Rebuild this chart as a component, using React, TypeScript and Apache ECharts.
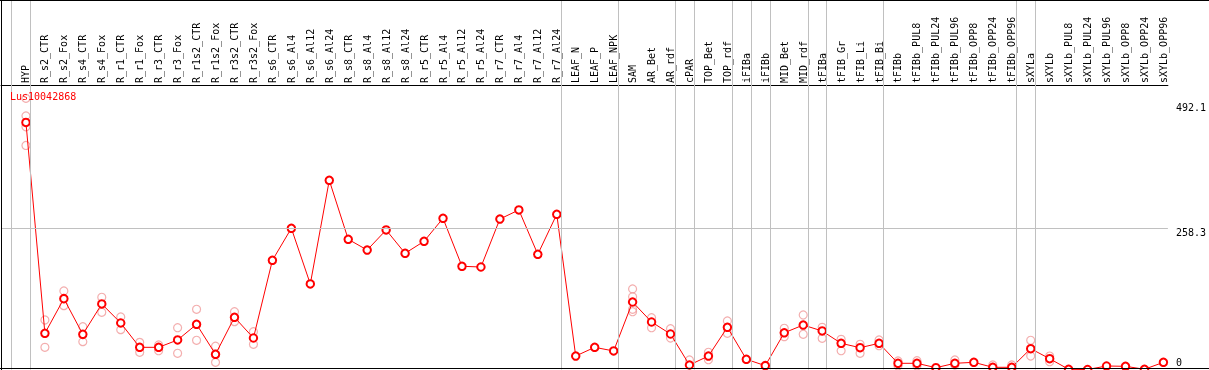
import React, { useEffect, useRef } from "react";
import * as echarts from "echarts";

const title = "Lus10042868";

const categories = [
  "HYP", "R_s2_CTR", "R_s2_Fox", "R_s4_CTR", "R_s4_Fox", "R_r1_CTR", "R_r1_Fox", "R_r3_CTR", "R_r3_Fox",
  "R_r1s2_CTR", "R_r1s2_Fox", "R_r3s2_CTR", "R_r3s2_Fox", "R_s6_CTR", "R_s6_Al4", "R_s6_Al12", "R_s6_Al24",
  "R_s8_CTR", "R_s8_Al4", "R_s8_Al12", "R_s8_Al24", "R_r5_CTR", "R_r5_Al4", "R_r5_Al12", "R_r5_Al24",
  "R_r7_CTR", "R_r7_Al4", "R_r7_Al12", "R_r7_Al24", "LEAF_N", "LEAF_P", "LEAF_NPK", "SAM", "AR_Bet", "AR_rdf",
  "cPAR", "TOP_Bet", "TOP_rdf", "iFIBa", "iFIBb", "MID_Bet", "MID_rdf", "tFIBa", "tFIB_Gr", "tFIB_Li", "tFIB_Bi",
  "tFIBb", "tFIBb_PUL8", "tFIBb_PUL24", "tFIBb_PUL96", "tFIBb_OPP8", "tFIBb_OPP24", "tFIBb_OPP96",
  "sXYLa", "sXYLb", "sXYLb_PUL8", "sXYLb_PUL24", "sXYLb_PUL96", "sXYLb_OPP8", "sXYLb_OPP24", "sXYLb_OPP96",
];

const meanValues = [
  451, 66.1, 129.3, 64.2, 119.6, 84.9, 40.5, 40.5, 53.9, 82.5, 27.7, 95.3, 57.5,
  199.3, 257.8, 156.1, 345.4, 237.7, 218.1, 254.7, 212.1, 234, 276, 188.4, 187.1,
  274.7, 291.2, 210.3, 283.3, 24.6, 40.5, 33.8, 123.2, 86.7, 64.8, 8.2, 24.6, 77,
  18.6, 7, 67, 81.2, 70.3, 47.8, 39.8, 47.8, 11.3, 11.3, 3.3, 11.3, 13.1, 4, 4,
  38, 19.7, 0.4, 0, 6.4, 5.8, 0.4, 13.1,
];

const replicates: number[][] = [
  [495, 463, 443, 409], [90.4, 40.5], [143.3, 116.5], [78.1, 50.8], [131.8, 104.4],
  [95.8, 72.7], [49.6, 31.4], [44.7, 34.3], [76.3, 29.6], [109.9, 53.3], [42.4, 13.1],
  [105.5, 87.3], [69, 46],
  [], [], [], [], [], [], [], [], [], [], [], [], [], [], [], [], [], [], [],
  [147, 132.9, 109.9, 105.5], [94.6, 76.3], [74.5, 57.5], [17.3], [31.4, 17.9], [88.5, 66.1],
  [], [], [75.2, 59.9], [99.5, 64.3], [77, 57], [55.1, 34.3], [46, 29.6], [53.9, 43.4],
  [15.5, 6.4], [16.1, 6.4], [], [17.3, 8.2], [], [8.2], [8.2],
  [53.3, 24.6], [24.6, 14.2], [], [], [], [], [], [],
];

const yTickValues = [0, 258.3, 492.1];
const yTickLabels = ["0", "258.3", "492.1"];
const gridLineValue = 258.3;

// index of the last category in each group
const groupEnds = [0, 28, 31, 34, 35, 37, 38, 39, 41, 42, 45, 52, 53, 60];
const leadingSeparator = -0.79;

const MONO = "DejaVu Sans Mono";

export default function App() {
  const ref = useRef<HTMLDivElement>(null);

  useEffect(() => {
    document.body.style.margin = "0";
    const chart = echarts.init(ref.current!, null, { renderer: "svg" });

    const meanData = meanValues.map((v, i) => [i, v]);
    const repData: number[][] = [];
    replicates.forEach((arr, i) => arr.forEach((v) => repData.push([i, v])));
    const separators = [leadingSeparator, ...groupEnds.map((i) => i + 0.24)];

    const xMin = -25 / 19;
    const xMax = 60 + 4.5 / 19;

    const yRich: Record<string, any> = {
      z: { fontFamily: MONO, fontSize: 10, color: "#000", padding: [0, 0, 15, 0] },
      m: { fontFamily: MONO, fontSize: 10, color: "#000", padding: [8.6, 0, 0, 0] },
      t: { fontFamily: MONO, fontSize: 10, color: "#000", padding: [14.2, 0, 0, 0] },
    };
    const richKeys = ["z", "m", "t"];

    chart.setOption({
      animation: false,
      title: {
        text: title,
        left: 10,
        top: 91,
        padding: 0,
        textStyle: { color: "#ff0000", fontFamily: MONO, fontSize: 10, fontWeight: "normal" },
        z: 10,
      },
      grid: { left: 1, right: 38.5, top: 0, bottom: 0.5, containLabel: false },
      xAxis: {
        type: "value",
        position: "top",
        offset: -85,
        min: xMin,
        max: xMax,
        axisLine: { show: true, onZero: false, lineStyle: { color: "#000", width: 1 } },
        axisTick: { show: false },
        splitLine: { show: false },
        axisLabel: {
          customValues: categories.map((_, i) => i),
          formatter: (v: number) => categories[Math.round(v)] ?? "",
          rotate: -90,
          margin: 2,
          fontFamily: MONO,
          fontSize: 10,
          color: "#000",
        },
      },
      yAxis: {
        type: "value",
        position: "right",
        min: 0,
        max: 674.5,
        axisLine: { show: false },
        axisTick: { show: false },
        splitLine: { show: false },
        axisLabel: {
          customValues: yTickValues,
          margin: 8,
          align: "left",
          verticalAlign: "middle",
          formatter: (v: number) => {
            const idx = yTickValues.findIndex((t) => Math.abs(t - v) < 1e-6);
            if (idx < 0) return "";
            return `{${richKeys[idx]}|${yTickLabels[idx]}}`;
          },
          rich: yRich,
        },
      },
      graphic: [
        { type: "line", shape: { x1: 0, y1: 0.5, x2: 1209, y2: 0.5 }, style: { stroke: "#000", lineWidth: 1 }, z: 100 },
        { type: "line", shape: { x1: 1.5, y1: 0, x2: 1.5, y2: 370 }, style: { stroke: "#000", lineWidth: 1 }, z: 100 },
        { type: "line", shape: { x1: 0, y1: 368.5, x2: 1209, y2: 368.5 }, style: { stroke: "#000", lineWidth: 1 }, z: 100 },
      ],
      series: [
        {
          type: "scatter",
          data: repData,
          symbol: "circle",
          symbolSize: 8,
          itemStyle: { color: "transparent", borderColor: "#f09a9a", borderWidth: 1.2 },
          silent: true,
          z: 2,
          markLine: {
            silent: true,
            symbol: "none",
            label: { show: false },
            lineStyle: { color: "#c0c0c0", width: 1, type: "solid" },
            data: [
              ...separators.map((v) => ({ xAxis: v })),
              { yAxis: gridLineValue },
            ],
          },
        },
        {
          type: "line",
          data: meanData,
          symbol: "emptyCircle",
          symbolSize: 7.5,
          lineStyle: { color: "#ff0000", width: 1 },
          itemStyle: { color: "#ff0000", borderWidth: 1.5 },
          silent: true,
          clip: false,
          z: 3,
        },
      ],
    });

    return () => chart.dispose();
  }, []);

  return <div ref={ref} style={{ position: "fixed", left: 0, top: 0, width: 1209, height: 370 }} />;
}
